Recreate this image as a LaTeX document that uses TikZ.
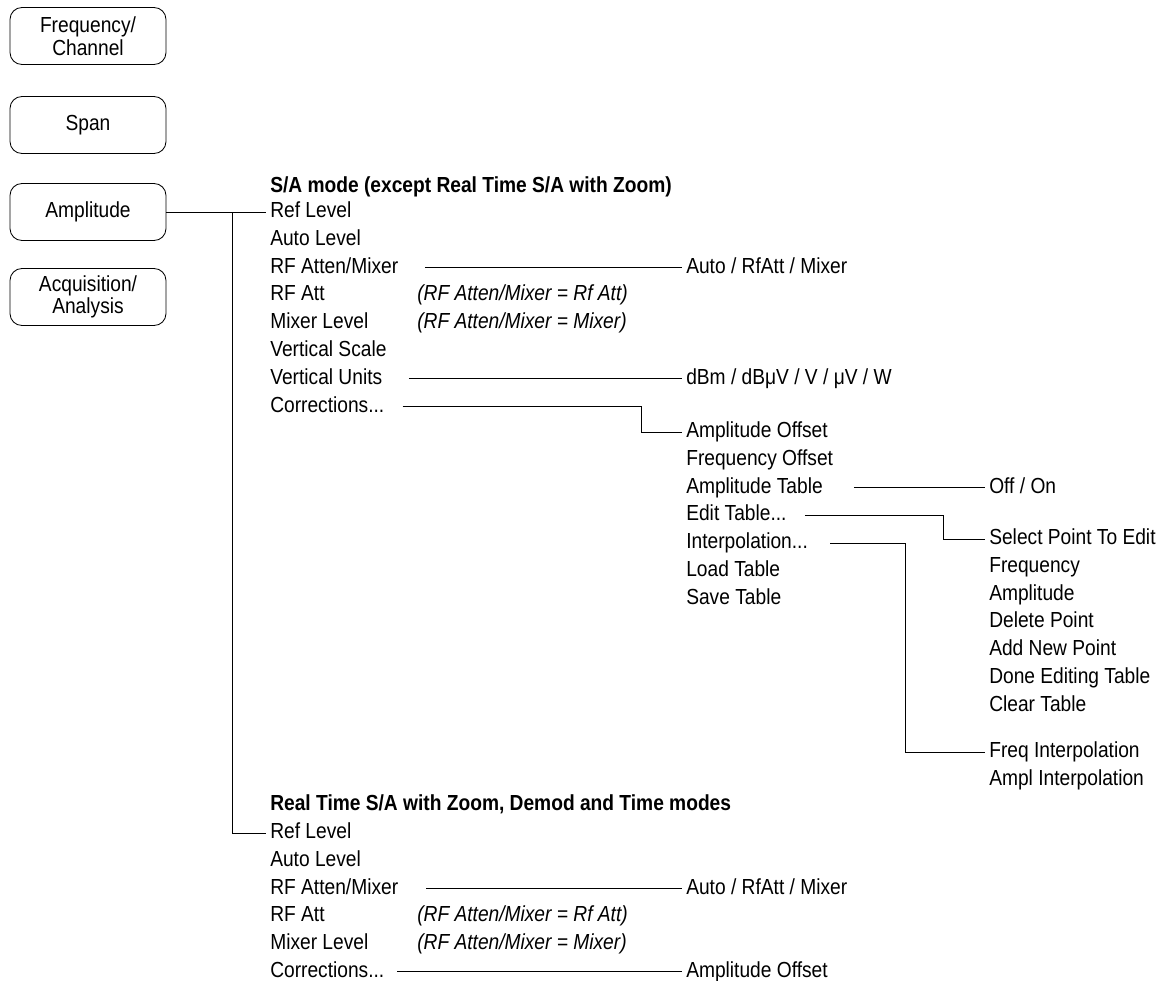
\documentclass[tikz,border=0pt]{standalone}
\usepackage{fontspec}
\setmainfont[FakeStretch=0.88]{Liberation Sans}
\usetikzlibrary{positioning}
\newcommand{\menufont}{\fontsize{15.5pt}{16pt}\selectfont}
\tikzset{
  menukey/.style={rectangle, rounded corners=0.3cm, draw, line width=0.6pt,
    minimum width=3.9cm, minimum height=1.425cm, align=center, inner sep=0pt,
    font=\menufont},
  entry/.style={anchor=west, inner xsep=0.1cm, inner ysep=0pt,
    minimum height=0.68cm, text height=11pt, text depth=3pt, font=\menufont},
  under/.style={below=0pt of #1.south west, anchor=north west},
  heading/.style={entry, font=\menufont\bfseries},
  note/.style={entry, font=\menufont\itshape},
  link/.style={line width=0.7pt},
  gaplink/.style={link, shorten <=#1},
  gaplink/.default=9pt,
}

\begin{document}
\begin{tikzpicture}[x=0.025cm, y=-0.025cm]
  \useasboundingbox (0,0) rectangle (1160,981);

  \node[menukey] (freq) at (88,36) {Frequency/\\Channel};
  \node[menukey] (span) at (88,125) {Span};
  \node[menukey] (amp) at (88,212) {Amplitude};
  \node[menukey] (acq) at (88,297) {Acquisition/\\Analysis};

  \coordinate (notecol) at (413,0);
  \coordinate (valcol) at (682,0);
  \coordinate (subcol) at (985,0);

  \node[heading] (sahead) at (266,187) {S/A mode (except Real Time S/A with Zoom)};
  \node[entry] (ref1) at (266,212) {Ref Level};
  \node[entry, under=ref1] (auto1) {Auto Level};
  \node[entry, under=auto1] (rfam1) {RF Atten/Mixer};
  \node[entry, under=rfam1] (rfatt1) {RF Att};
  \node[entry, under=rfatt1] (mix1) {Mixer Level};
  \node[entry, under=mix1] (vscale) {Vertical Scale};
  \node[entry, under=vscale] (vunits) {Vertical Units};
  \node[entry, under=vunits] (corr1) {Corrections...};
  \node[note] (attnote1) at (rfatt1 -| notecol) {(RF Atten/Mixer = Rf Att)};
  \node[note] (mixnote1) at (mix1 -| notecol) {(RF Atten/Mixer = Mixer)};
  \node[entry] (rfsel1) at (rfam1 -| valcol) {Auto / RfAtt / Mixer};
  \node[entry] (units) at (vunits -| valcol) {dBm / dBμV / V / μV / W};

  \node[entry] (aoff1) at (682,432) {Amplitude Offset};
  \node[entry, under=aoff1] (foff) {Frequency Offset};
  \node[entry, under=foff] (atable) {Amplitude Table};
  \node[entry, under=atable] (edit) {Edit Table...};
  \node[entry, under=edit] (interp) {Interpolation...};
  \node[entry, under=interp] (load) {Load Table};
  \node[entry, under=load] (save) {Save Table};

  \node[entry] (onoff) at (atable -| subcol) {Off / On};
  \node[entry] (selpt) at (985,539) {Select Point To Edit};
  \node[entry, under=selpt] (freqpt) {Frequency};
  \node[entry, under=freqpt] (amppt) {Amplitude};
  \node[entry, under=amppt] (delpt) {Delete Point};
  \node[entry, under=delpt] (addpt) {Add New Point};
  \node[entry, under=addpt] (donept) {Done Editing Table};
  \node[entry, under=donept] (clrtab) {Clear Table};
  \node[entry] (finterp) at (985,752) {Freq Interpolation};
  \node[entry, under=finterp] (ainterp) {Ampl Interpolation};

  \node[heading] (rthead) at (266,805) {Real Time S/A with Zoom, Demod and Time modes};
  \node[entry] (ref2) at (266,833) {Ref Level};
  \node[entry, under=ref2] (auto2) {Auto Level};
  \node[entry, under=auto2] (rfam2) {RF Atten/Mixer};
  \node[entry, under=rfam2] (rfatt2) {RF Att};
  \node[entry, under=rfatt2] (mix2) {Mixer Level};
  \node[entry, under=mix2] (corr2) {Corrections...};
  \node[note] (attnote2) at (rfatt2 -| notecol) {(RF Atten/Mixer = Rf Att)};
  \node[note] (mixnote2) at (mix2 -| notecol) {(RF Atten/Mixer = Mixer)};
  \node[entry] (rfsel2) at (rfam2 -| valcol) {Auto / RfAtt / Mixer};
  \node[entry] (aoff2) at (corr2 -| valcol) {Amplitude Offset};

  \coordinate (trunk) at (232,212);
  \coordinate (corrbend) at (641,432);
  \coordinate (editbend) at (943,539);
  \coordinate (interpbend) at (905,752);

  \draw[link] (amp.east) -- (ref1.west);
  \draw[link] (trunk) |- (ref2.west);
  \draw[gaplink=16pt] (rfam1.east) -- (rfsel1.west);
  \draw[gaplink=16pt] (vunits.east) -- (units.west);
  \draw[gaplink=10pt] (corr1.east) -| (corrbend) -- (aoff1.west);
  \draw[gaplink=19pt] (atable.east) -- (onoff.west);
  \draw[gaplink=10pt] (edit.east) -| (editbend) -- (selpt.west);
  \draw[gaplink=13pt] (interp.east) -| (interpbend) -- (finterp.west);
  \draw[gaplink=17pt] (rfam2.east) -- (rfsel2.west);
  \draw[gaplink=6pt] (corr2.east) -- (aoff2.west);
\end{tikzpicture}
\end{document}
